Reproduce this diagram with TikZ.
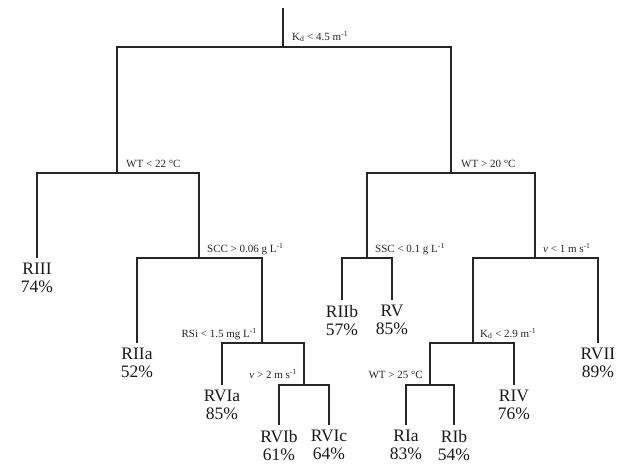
\documentclass[tikz,border=0pt]{standalone}
\usepackage{fontspec}
\setmainfont{Liberation Serif}
\tikzset{
  edge/.style={draw=black!85, line width=1.3pt},
  leaf/.style={anchor=north, inner sep=0pt, outer sep=0pt, align=center, text=black!90,
    font=\fontsize{17.5}{18}\selectfont, text depth=0pt},
  labr/.style={anchor=base west, inner sep=0pt, text=black!85, font=\fontsize{11}{12}\selectfont},
  labl/.style={anchor=base east, inner sep=0pt, text=black!85, font=\fontsize{11}{12}\selectfont}
}
\begin{document}
\begin{tikzpicture}[x=1pt,y=-1pt]
\useasboundingbox (0,0) rectangle (621,467);
% split points
\coordinate (top) at (283,8);
\coordinate (s1) at (283,47);
\coordinate (s2) at (117,173);
\coordinate (s3) at (451,173);
\coordinate (s4) at (199,258);
\coordinate (s5) at (367,258);
\coordinate (s6) at (535,258);
\coordinate (s7) at (262,343);
\coordinate (s8) at (473,343);
\coordinate (s9) at (304,385);
\coordinate (s10) at (430,385);
% leaf line ends
\coordinate (eRIII) at (37,258);
\coordinate (eRIIa) at (137,343);
\coordinate (eRVIa) at (222,385);
\coordinate (eRVIb) at (279,425);
\coordinate (eRVIc) at (329,425);
\coordinate (eRIIb) at (342,300);
\coordinate (eRV) at (392,300);
\coordinate (eRIa) at (406,425);
\coordinate (eRIb) at (454,425);
\coordinate (eRIV) at (514,385);
\coordinate (eRVII) at (598,343);
% leaves
\node[leaf] (RIII) at ([yshift=-5pt]eRIII) {RIII\\74\%};
\node[leaf] (RIIa) at ([yshift=-5pt]eRIIa) {RIIa\\52\%};
\node[leaf] (RVIa) at ([yshift=-5pt]eRVIa) {RVIa\\85\%};
\node[leaf] (RVIb) at ([yshift=-5pt]eRVIb) {RVIb\\61\%};
\node[leaf] (RVIc) at ([yshift=-5pt]eRVIc) {RVIc\\64\%};
\node[leaf] (RIIb) at ([yshift=-5pt]eRIIb) {RIIb\\57\%};
\node[leaf] (RV) at ([yshift=-5pt]eRV) {RV\\85\%};
\node[leaf] (RIa) at ([yshift=-5pt]eRIa) {RIa\\83\%};
\node[leaf] (RIb) at ([yshift=-5pt]eRIb) {RIb\\54\%};
\node[leaf] (RIV) at ([yshift=-5pt]eRIV) {RIV\\76\%};
\node[leaf] (RVII) at ([yshift=-5pt]eRVII) {RVII\\89\%};
% edges
\draw[edge] (top) -- (s1);
\draw[edge] (s1) -| (s2);
\draw[edge] (s1) -| (s3);
\draw[edge] (s2) -| (eRIII);
\draw[edge] (s2) -| (s4);
\draw[edge] (s4) -| (eRIIa);
\draw[edge] (s4) -| (s7);
\draw[edge] (s7) -| (eRVIa);
\draw[edge] (s7) -| (s9);
\draw[edge] (s9) -| (eRVIb);
\draw[edge] (s9) -| (eRVIc);
\draw[edge] (s3) -| (s5);
\draw[edge] (s3) -| (s6);
\draw[edge] (s5) -| (eRIIb);
\draw[edge] (s5) -| (eRV);
\draw[edge] (s6) -| (s8);
\draw[edge] (s6) -| (eRVII);
\draw[edge] (s8) -| (s10);
\draw[edge] (s8) -| (eRIV);
\draw[edge] (s10) -| (eRIa);
\draw[edge] (s10) -| (eRIb);
% labels
\node[labr] (l1) at ([xshift=9pt,yshift=7pt]s1) {K\textsubscript{d} < 4.5 m\textsuperscript{-1}};
\node[labr] (l2) at ([xshift=9pt,yshift=6pt]s2) {WT < 22 °C};
\node[labr] (l3) at ([xshift=10pt,yshift=6pt]s3) {WT > 20 °C};
\node[labr] (l4) at ([xshift=8pt,yshift=6pt]s4) {SCC > 0.06 g L\textsuperscript{-1}};
\node[labr] (l5) at ([xshift=8pt,yshift=6pt]s5) {SSC < 0.1 g L\textsuperscript{-1}};
\node[labr] (l6) at ([xshift=8pt,yshift=6pt]s6) {\textit{v} < 1 m s\textsuperscript{-1}};
\node[labl] (l7) at ([xshift=-5pt,yshift=6pt]s7) {RSi < 1.5 mg L\textsuperscript{-1}};
\node[labr] (l8) at ([xshift=7pt,yshift=6pt]s8) {K\textsubscript{d} < 2.9 m\textsuperscript{-1}};
\node[labl] (l9) at ([xshift=-7pt,yshift=7pt]s9) {\textit{v} > 2 m s\textsuperscript{-1}};
\node[labl] (l10) at ([xshift=-7pt,yshift=7pt]s10) {WT > 25 °C};
\end{tikzpicture}
\end{document}
